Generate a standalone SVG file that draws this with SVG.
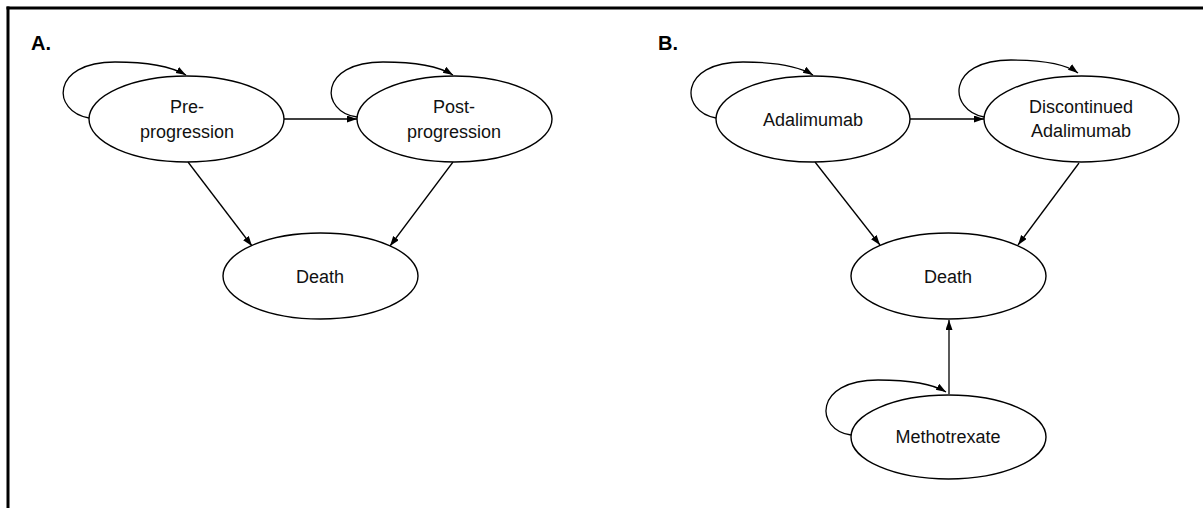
<svg xmlns="http://www.w3.org/2000/svg" width="1203" height="508" viewBox="0 0 1203 508">
<style>
.node ellipse{fill:#fff;stroke:#000;stroke-width:1.4}
.node text{font-family:"Liberation Sans",Arial,sans-serif;font-size:18px;fill:#111;text-anchor:middle}
.panel{font-family:"Liberation Sans",Arial,sans-serif;font-size:20px;font-weight:bold;fill:#000}
#connectors path,#connectors line{fill:none;stroke:#000;stroke-width:1.3;marker-end:url(#ah)}
</style>
<defs>
<marker id="ah" markerUnits="userSpaceOnUse" markerWidth="11" markerHeight="8" refX="10" refY="3.5" orient="auto">
<path d="M0,0 L10,3.5 L0,7 z" fill="#000"/>
</marker>
</defs>
<rect width="1203" height="508" fill="#fff"/>
<g id="frame">
<line x1="6.5" y1="8" x2="1203" y2="8" stroke="#000" stroke-width="3"/>
<line x1="8" y1="6.5" x2="8" y2="508" stroke="#000" stroke-width="3"/>
</g>
<text class="panel" x="31" y="50">A.</text>
<text class="panel" x="658" y="50">B.</text>
<g id="connectors">
<path d="M89,118 C52,112 50,62 115,62 C150,62 172,67 186,75"/>
<path d="M357,117 C320,112 318,62 383,62 C418,62 440,67 453,75"/>
<line x1="284" y1="119" x2="357" y2="119"/>
<line x1="188" y1="162" x2="252" y2="246"/>
<line x1="453" y1="162" x2="390" y2="246"/>
<path d="M716,118 C680,112 678,62 743,62 C778,62 800,67 813,75"/>
<path d="M984,117 C948,110 946,60 1011,60 C1046,60 1066,64 1078,73"/>
<line x1="910" y1="119" x2="984" y2="119"/>
<line x1="815" y1="162" x2="880" y2="245"/>
<line x1="1079" y1="163" x2="1018" y2="245"/>
<line x1="949" y1="394" x2="949" y2="320"/>
<path d="M851,435 C815,430 813,380 878,380 C913,380 933,384 946,392"/>
</g>
<g id="pre" class="node">
<ellipse cx="186.5" cy="119" rx="97.5" ry="43"/>
<text x="187" y="113">Pre-</text>
<text x="187" y="138">progression</text>
</g>
<g id="post" class="node">
<ellipse cx="454.5" cy="119" rx="97.5" ry="43"/>
<text x="454" y="113">Post-</text>
<text x="454" y="138">progression</text>
</g>
<g id="deathA" class="node">
<ellipse cx="320.5" cy="276" rx="97.5" ry="43"/>
<text x="320" y="283">Death</text>
</g>
<g id="ada" class="node">
<ellipse cx="813" cy="119" rx="97" ry="43"/>
<text x="813" y="126">Adalimumab</text>
</g>
<g id="disc" class="node">
<ellipse cx="1081.5" cy="119" rx="97.5" ry="43"/>
<text x="1081" y="113">Discontinued</text>
<text x="1081" y="137">Adalimumab</text>
</g>
<g id="deathB" class="node">
<ellipse cx="948.5" cy="276" rx="97.5" ry="43"/>
<text x="948" y="283">Death</text>
</g>
<g id="mtx" class="node">
<ellipse cx="948.5" cy="437" rx="97.5" ry="42"/>
<text x="948" y="443">Methotrexate</text>
</g>
</svg>
